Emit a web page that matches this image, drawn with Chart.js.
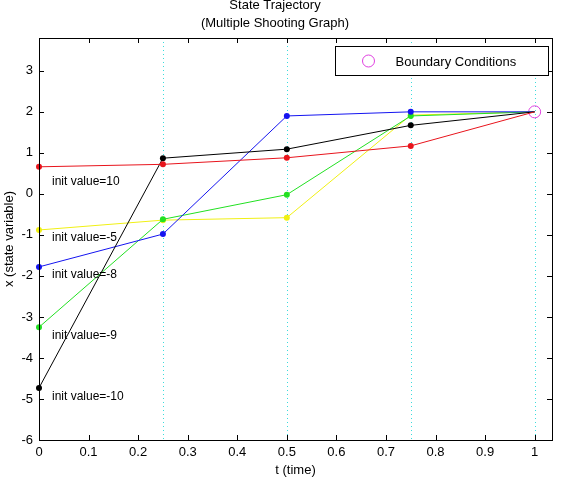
<!DOCTYPE html>
<html>
<head>
<meta charset="utf-8">
<script src="https://cdn.jsdelivr.net/npm/chart.js@4.4.1/dist/chart.umd.min.js"></script>
<style>
  body { margin: 0; background: #fff; }
</style>
</head>
<body>
<canvas id="canvas" width="565" height="480"></canvas>
<script>
// data
const tValues = [0, 0.25, 0.5, 0.75, 1];
const redValues = [0.66, 0.72, 0.88, 1.17, 2];
const blackValues = [-4.73, 0.87, 1.09, 1.67, 2];
const blueValues = [-1.78, -0.98, 1.9, 2.0, 2];
const greenValues = [-3.25, -0.62, -0.02, 1.9, 2];
const yellowValues = [-0.88, -0.64, -0.58, 1.92, 2];
const boundaryT = [1];
const boundaryX = [2];

const xTicks = [0, 0.1, 0.2, 0.3, 0.4, 0.5, 0.6, 0.7, 0.8, 0.9, 1];
const yTicks = [-6, -5, -4, -3, -2, -1, 0, 1, 2, 3];
const shootT = [0.25, 0.5, 0.75, 1];

const initLabels = ['init value=10', 'init value=-5', 'init value=-8', 'init value=-9', 'init value=-10'];
const initLabelY = [0.3, -1.08, -1.98, -3.45, -4.95];

const FONT = 'Liberation Sans, Arial, Helvetica, sans-serif';

function pts(vals) {
    return tValues.map((t, i) => ({ x: t, y: vals[i] }));
}

function line(label, vals, color) {
    return {
        label: label,
        data: pts(vals),
        borderColor: color,
        backgroundColor: color,
        borderWidth: 1,
        // no dot on the end point, the boundary circle sits there
        pointRadius: tValues.map(t => (t === 1 ? 0 : 3)),
        pointBorderWidth: 0,
        pointHoverRadius: 3,
        showLine: true,
        clip: false
    };
}

const deco = {
    id: 'deco',
    beforeDatasetsDraw(chart) {
        const ctx = chart.ctx;
        const a = chart.chartArea;
        const xs = chart.scales.x;
        ctx.save();
        ctx.strokeStyle = '#3cdcdc';
        ctx.lineWidth = 1;
        ctx.setLineDash([1, 3]);
        shootT.forEach(t => {
            const px = Math.round(xs.getPixelForValue(t)) + 0.5;
            ctx.beginPath();
            ctx.moveTo(px, a.top);
            ctx.lineTo(px, a.bottom);
            ctx.stroke();
        });
        ctx.restore();
    },
    afterDraw(chart) {
        const ctx = chart.ctx;
        const a = chart.chartArea;
        const xs = chart.scales.x;
        const ys = chart.scales.y;
        ctx.save();
        // box
        ctx.strokeStyle = '#000';
        ctx.lineWidth = 1;
        ctx.strokeRect(Math.round(a.left) + 0.5, Math.round(a.top) + 0.5,
            Math.round(a.right - a.left), Math.round(a.bottom - a.top));
        // inward ticks
        ctx.beginPath();
        xTicks.forEach(v => {
            const px = Math.round(xs.getPixelForValue(v)) + 0.5;
            ctx.moveTo(px, a.bottom); ctx.lineTo(px, a.bottom - 5);
            ctx.moveTo(px, a.top); ctx.lineTo(px, a.top + 5);
        });
        yTicks.forEach(v => {
            const py = Math.round(ys.getPixelForValue(v)) + 0.5;
            ctx.moveTo(a.left, py); ctx.lineTo(a.left + 5, py);
            ctx.moveTo(a.right, py); ctx.lineTo(a.right - 5, py);
        });
        ctx.stroke();

        // title
        ctx.fillStyle = '#000';
        ctx.font = '13px ' + FONT;
        ctx.textAlign = 'center';
        ctx.textBaseline = 'alphabetic';
        ctx.fillText('State Trajectory', 275, 9);
        ctx.fillText('(Multiple Shooting Graph)', 275, 27);

        // init value notes
        ctx.font = '12px ' + FONT;
        ctx.textAlign = 'left';
        ctx.textBaseline = 'middle';
        initLabels.forEach((s, i) => {
            ctx.fillText(s, xs.getPixelForValue(0) + 13, ys.getPixelForValue(initLabelY[i]));
        });

        // legend box
        const bw = 213, bh = 29;
        const bx = Math.round(a.right - 4 - bw) + 0.5;
        const by = Math.round(a.top + 8) + 0.5;
        ctx.fillStyle = '#fff';
        ctx.fillRect(bx, by, bw, bh);
        ctx.strokeStyle = '#000';
        ctx.strokeRect(bx, by, bw, bh);
        const bd = chart.data.datasets[5];
        ctx.strokeStyle = bd.borderColor;
        ctx.beginPath();
        ctx.arc(bx + 33, by + bh / 2, 6, 0, Math.PI * 2);
        ctx.stroke();
        ctx.fillStyle = '#000';
        ctx.font = '13px ' + FONT;
        ctx.fillText(bd.label, bx + 60, by + bh / 2 + 1);
        ctx.restore();
    }
};

const ctx = document.getElementById('canvas').getContext('2d');

const myChart = new Chart(ctx, {
    type: 'scatter',
    data: {
        datasets: [
            line('init value=10', redValues, '#e8141c'),
            line('init value=-10', blackValues, '#000000'),
            line('init value=-8', blueValues, '#1414f0'),
            line('init value=-9', greenValues, '#22e022'),
            line('init value=-5', yellowValues, '#f0f014'),
            {
                label: 'Boundary Conditions',
                data: boundaryT.map((t, i) => ({ x: t, y: boundaryX[i] })),
                borderColor: '#e040e0',
                backgroundColor: 'rgba(0,0,0,0)',
                borderWidth: 1,
                pointRadius: 6,
                pointHoverRadius: 6,
                showLine: false,
                clip: false
            }
        ]
    },
    options: {
        responsive: false,
        animation: false,
        layout: { padding: { top: 38, right: 13, left: 0, bottom: 0 } },
        plugins: {
            legend: { display: false },
            title: { display: false },
            tooltip: { enabled: false }
        },
        scales: {
            x: {
                type: 'linear',
                min: 0,
                max: 1.035,
                afterBuildTicks: s => { s.ticks = xTicks.map(v => ({ value: v })); },
                afterFit: s => { s.height = 40; },
                grid: { display: false, drawTicks: false },
                border: { display: false },
                ticks: {
                    color: '#000',
                    font: { family: FONT, size: 13 },
                    padding: 5,
                    maxRotation: 0,
                    autoSkip: false,
                    callback: v => String(v)
                },
                title: {
                    display: true,
                    text: 't (time)',
                    color: '#000',
                    font: { family: FONT, size: 13 },
                    padding: { top: 0, bottom: 2 }
                }
            },
            y: {
                type: 'linear',
                min: -6,
                max: 3.8,
                afterBuildTicks: s => { s.ticks = yTicks.map(v => ({ value: v })); },
                afterFit: s => { s.width = 39; },
                grid: { display: false, drawTicks: false },
                border: { display: false },
                ticks: {
                    color: '#000',
                    font: { family: FONT, size: 13 },
                    padding: 6,
                    autoSkip: false,
                    callback: v => String(v)
                },
                title: {
                    display: true,
                    text: 'x (state variable)',
                    color: '#000',
                    font: { family: FONT, size: 13 },
                    padding: { top: 2, bottom: 0 }
                }
            }
        }
    },
    plugins: [deco]
});
</script>
</body>
</html>
